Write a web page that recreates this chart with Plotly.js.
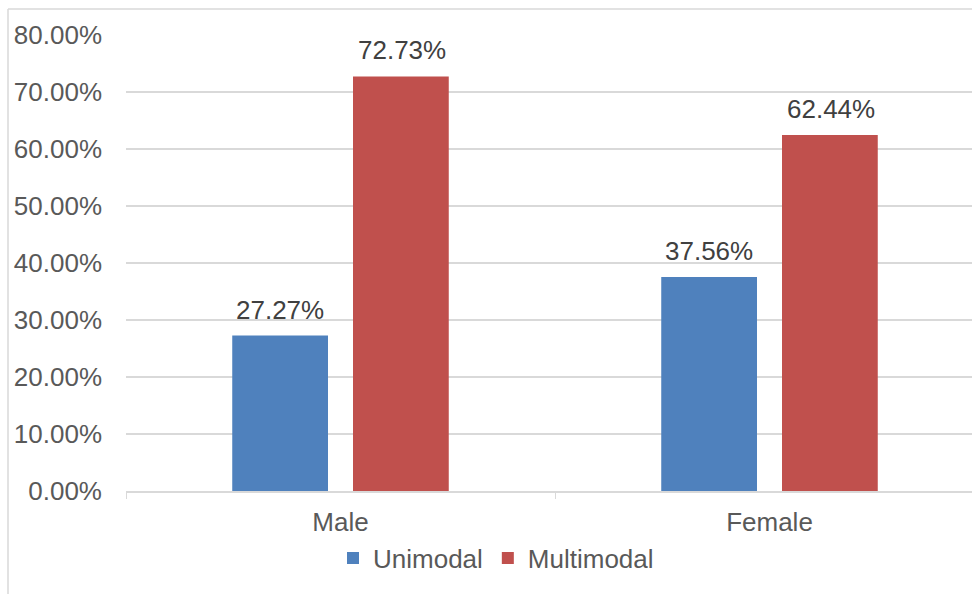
<!DOCTYPE html>
<html>
<head>
<meta charset="utf-8">
<script src="https://cdn.plot.ly/plotly-3.0.1.min.js"></script>
<style>html,body{margin:0;padding:0;background:#fff;}#chart{width:972px;height:594px;}</style>
</head>
<body>
<div id="chart"></div>
<script>
var categories = ["Male", "Female"];
var unimodal = [0.2727, 0.3756];
var multimodal = [0.7273, 0.6244];
var seriesNames = ["Unimodal", "Multimodal"];

var L = 126, R = 0, T = 35, B = 103, W = 972, H = 594;
var catW = 429;
var pw = W - L - R, ph = H - T - B;
function px(x){ return (x - L) / pw; }
function py(y){ return (H - B - y) / ph; }

var font = {family: "Liberation Sans, Arial, sans-serif", size: 26, color: "#595959"};
var labelFont = {family: font.family, size: 26, color: "#404040"};

var traces = [
  {type: "bar", name: seriesNames[0], x: categories, y: unimodal,
   marker: {color: "#4f81bd"}},
  {type: "bar", name: seriesNames[1], x: categories, y: multimodal,
   marker: {color: "#c0504d"}}
];

var annotations = [];
var series = [unimodal, multimodal];
var shifts = [-61, 61];
series.forEach(function(vals, si){
  vals.forEach(function(v, ci){
    annotations.push({x: categories[ci], y: v, xref: "x", yref: "y",
      text: (v * 100).toFixed(2) + "%", showarrow: false,
      xanchor: "center", yanchor: "bottom", xshift: shifts[si], yshift: 9,
      font: labelFont});
  });
});

var layout = {
  width: W, height: H,
  margin: {l: L, r: R, t: T, b: B, pad: 0},
  paper_bgcolor: "#ffffff", plot_bgcolor: "#ffffff",
  font: font,
  barmode: "group", bargap: 0.437, bargroupgap: 0.207,
  showlegend: true,
  legend: {orientation: "h", x: px(496), xanchor: "center", y: py(558), yanchor: "middle",
           font: font, itemwidth: 30, tracegroupgap: 0},
  xaxis: {type: "category", range: [-0.5, -0.5 + pw / catW], showgrid: false,
          showline: true, linecolor: "#d9d9d9", linewidth: 1.5,
          ticks: "outside", tickson: "boundaries", ticklen: 6, tickcolor: "#d9d9d9",
          ticklabelstandoff: 7,
          tickfont: font, zeroline: false, fixedrange: true},
  yaxis: {range: [0, 0.8], dtick: 0.1, tick0: 0, tickformat: ".2%",
          showgrid: true, gridcolor: "#d9d9d9", gridwidth: 1.5, zeroline: false,
          showline: false, ticks: "", ticklabelstandoff: 23, tickfont: font, fixedrange: true},
  annotations: annotations,
  shapes: [
    {type: "line", xref: "paper", yref: "paper", x0: px(8), x1: px(8), y0: py(9), y1: py(620),
     line: {color: "#d9d9d9", width: 1.5}},
    {type: "line", xref: "paper", yref: "paper", x0: px(8), x1: px(1000), y0: py(9), y1: py(9),
     line: {color: "#d9d9d9", width: 1.5}}
  ]
};

Plotly.newPlot("chart", traces, layout, {displayModeBar: false, staticPlot: true});
</script>
</body>
</html>
